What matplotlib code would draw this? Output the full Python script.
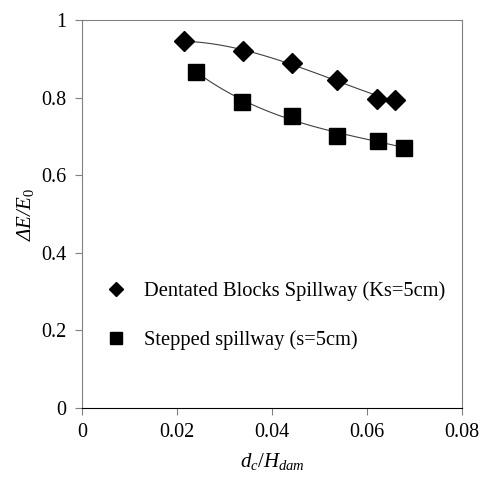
import numpy as np
import matplotlib
matplotlib.use('Agg')
import matplotlib.pyplot as plt

plt.rcParams['font.family'] = ['Liberation Serif', 'DejaVu Serif']
plt.rcParams['mathtext.fontset'] = 'custom'
plt.rcParams['mathtext.rm'] = 'Liberation Serif'
plt.rcParams['mathtext.it'] = 'Liberation Serif:italic'

# data
dentated_x = [0.0214, 0.0338, 0.0443, 0.0537, 0.0622, 0.0660]
dentated_y = [0.946, 0.920, 0.888, 0.845, 0.797, 0.794]
stepped_x = [0.0241, 0.0337, 0.0442, 0.0537, 0.0623, 0.0678]
stepped_y = [0.867, 0.788, 0.753, 0.702, 0.689, 0.671]

x_ticks = [0, 0.02, 0.04, 0.06, 0.08]
x_labels = ['0', '0.02', '0.04', '0.06', '0.08']
y_ticks = [0, 0.2, 0.4, 0.6, 0.8, 1]
y_labels = ['0', '0.2', '0.4', '0.6', '0.8', '1']

fig = plt.figure(figsize=(4.8, 4.8), dpi=100)
ax = fig.add_axes([82 / 480, 72 / 480, 380 / 480, 388 / 480])

# smooth trend curves
for xs, ys in [(dentated_x, dentated_y), (stepped_x, stepped_y)]:
    c = np.polyfit(xs, ys, 3)
    xx = np.linspace(min(xs), max(xs), 100)
    ax.plot(xx, np.polyval(c, xx), color='#404040', lw=0.8, zorder=2)

ax.plot(dentated_x, dentated_y, 'D', color='black', ms=10,
        label='Dentated Blocks Spillway (Ks=5cm)', zorder=3)
ax.plot(stepped_x, stepped_y, 's', color='black', ms=11,
        label='Stepped spillway (s=5cm)', zorder=3)

ax.set_xlim(0, 0.08)
ax.set_ylim(0, 1)
ax.set_xticks(x_ticks)
ax.set_xticklabels(x_labels)
ax.set_yticks(y_ticks)
ax.set_yticklabels(y_labels)
ax.tick_params(labelsize=14.5, direction='out', length=5, color='#808080', pad=6)

for s in ['left', 'right', 'top']:
    ax.spines[s].set_color('#808080')
ax.spines['bottom'].set_color('black')

ax.set_xlabel(r'$d_c/H_{dam}$', fontsize=15, labelpad=6)
ax.set_ylabel(r'ΔE/E$_\mathit{0}$', fontsize=15, labelpad=4, style='italic')

leg = ax.legend(loc='upper left', bbox_to_anchor=(0.015, 0.375), frameon=False,
                fontsize=14.8, handlelength=1, handletextpad=0.85,
                labelspacing=1.45)
leg.legend_handles[0].set_markersize(7)
leg.legend_handles[1].set_markersize(8.5)

fig.savefig('out.png', dpi=100)
